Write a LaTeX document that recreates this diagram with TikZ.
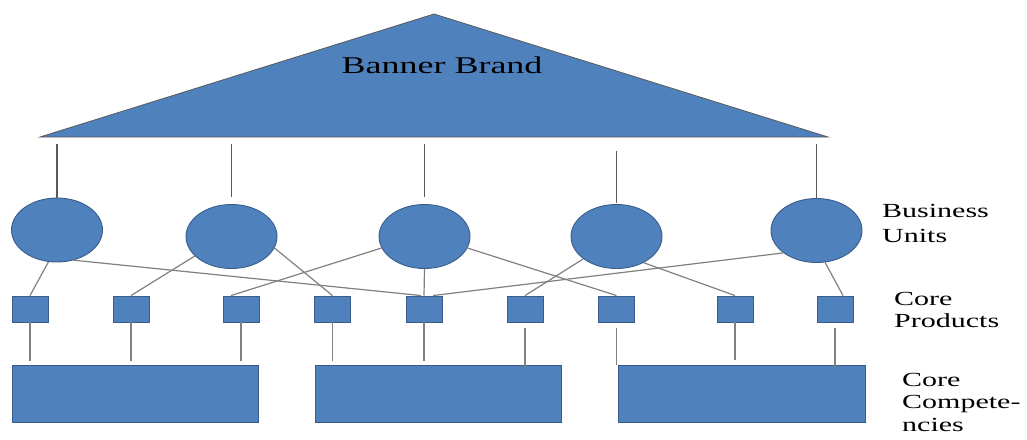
\documentclass[tikz,border=0pt]{standalone}
\usepackage{fontspec}
\setmainfont{Liberation Serif}[FakeStretch=1.5]
\usetikzlibrary{shapes.geometric,calc}
\definecolor{unitblue}{HTML}{4F81BD}
\definecolor{unitedge}{HTML}{385D8A}
\definecolor{linkgray}{HTML}{808080}
\definecolor{stemgray}{HTML}{5A5A5A}

\begin{document}
\begin{tikzpicture}[x=1pt,y=-1pt,
  shapefill/.style={fill=unitblue,draw=unitedge,line width=0.9pt},
  unit/.style={shapefill,ellipse,minimum width=91pt,minimum height=64pt,inner sep=0pt},
  product/.style={shapefill,rectangle,minimum width=36pt,minimum height=26pt,inner sep=0pt},
  competence/.style={shapefill,rectangle,minimum width=246pt,minimum height=57pt,inner sep=0pt},
  link/.style={draw=linkgray,line width=1.2pt},
  stem/.style={draw=stemgray,line width=1.3pt},
  label/.style={align=left,anchor=base west,inner sep=0pt,font=\fontsize{20}{22}\selectfont}
]
\useasboundingbox (0,0) rectangle (1027,439);

% banner triangle
\coordinate (apex) at (434,14);
\coordinate (baseL) at (40,137);
\coordinate (baseR) at (828,137);
\draw[fill=unitblue,draw=stemgray,line width=0.8pt] (apex) -- (baseR) -- (baseL) -- cycle;
\node[anchor=base,inner sep=0pt,font=\fontsize{24}{24}\selectfont] (banner) at (442,73) {Banner Brand};

% business units
\node[unit] (u1) at (57,230) {};
\node[unit] (u2) at (231.5,236.5) {};
\node[unit] (u3) at (424.5,236.5) {};
\node[unit] (u4) at (616.5,236.5) {};
\node[unit] (u5) at (816.5,230.5) {};

% stems hanging from the banner
\coordinate (t1) at (57,144);
\coordinate (t2) at (231.5,144);
\coordinate (t3) at (424.5,144);
\coordinate (t4) at (616.5,151);
\coordinate (t5) at (816.5,144);
\draw[stem] (t1) -- (u1.north);
\draw[stem,shorten >=7pt] (t2) -- (u2.north);
\draw[stem,shorten >=7pt] (t3) -- (u3.north);
\draw[stem,shorten >=1pt] (t4) -- (u4.north);
\draw[stem] (t5) -- (u5.north);

% core products
\foreach \n/\x in {1/30,2/131,3/241,4/332.5,5/424,6/525,7/616.5,8/735,9/835}
  \node[product] (p\n) at (\x,309) {};

% unit-to-product links
\draw[link] (u1.-105) -- (p1.north);
\draw[link] (u1.-61) -- ($(p5.north)+(-3,0)$);
\draw[link] (u2.208) -- (p2.north);
\draw[link] (u2.-15) -- (p4.north);
\draw[link] (u3.195) -- ($(p3.north)+(-10,0)$);
\draw[link] (u3.south) -- (p5.north);
\draw[link] (u3.-15) -- (p7.north);
\draw[link] (u4.214) -- (p6.north);
\draw[link] (u4.-44) -- (p8.north);
\draw[link] (u5.214) -- ($(p5.north)+(9,0)$);
\draw[link] (u5.-75) -- ($(p9.north)+(8,0)$);

% core competencies
\node[competence] (k1) at (135,393.5) {};
\node[competence] (k2) at (438,393.5) {};
\node[competence,minimum width=247pt] (k3) at (741.5,393.5) {};

% product-to-competence drops
\draw[link,shorten >=4pt] (p1.south) -- (p1.south |- k1.north);
\draw[link,shorten >=4pt] (p2.south) -- (p2.south |- k1.north);
\draw[link,shorten >=4pt] (p3.south) -- (p3.south |- k1.north);
\draw[link,shorten >=4pt] (p4.south) -- (p4.south |- k2.north);
\draw[link,shorten >=4pt] (p5.south) -- (p5.south |- k2.north);
\draw[link,shorten <=6pt,shorten >=-2pt] (p6.south) -- (p6.south |- k2.north);
\draw[link,shorten <=6pt] (p7.south) -- (p7.south |- k3.north);
\draw[link,shorten >=5pt] (p8.south) -- (p8.south |- k3.north);
\draw[link,shorten <=6pt,shorten >=-2pt] (p9.south) -- (p9.south |- k3.north);

% row labels (anchored on the baseline of their last line)
\node[label,font=\fontsize{20}{25}\selectfont] (lblunits) at (882,242) {Business\\Units};
\node[label] (lblproducts) at (894,327) {Core\\Products};
\node[label,font=\fontsize{20}{22.5}\selectfont] (lblcomp) at (902,431) {Core\\Compete-\\ncies};
\end{tikzpicture}
\end{document}
